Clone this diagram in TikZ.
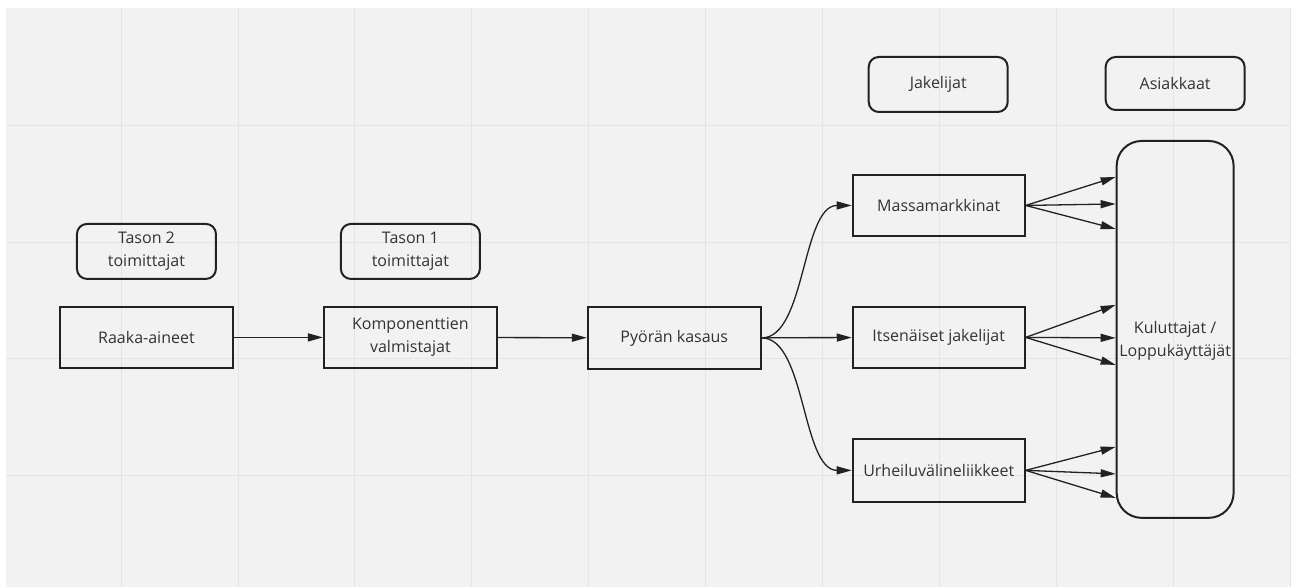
\documentclass[tikz,border=0pt]{standalone}
\usepackage{fontspec}
\setmainfont{Open Sans}
\usetikzlibrary{arrows.meta}
\definecolor{bggrey}{HTML}{F2F2F2}
\definecolor{gridgrey}{HTML}{E4E4E4}
\definecolor{inkgrey}{HTML}{222222}
\definecolor{txtgrey}{HTML}{333333}
\tikzset{
  box/.style={draw=inkgrey, line width=2pt, text=txtgrey, align=center,
    inner sep=0pt, minimum width=173pt, minimum height=61pt,
    font=\fontsize{16}{23}\selectfont},
  tag/.style={box, rounded corners=10pt, minimum width=139pt, minimum height=55pt},
  arr/.style={draw=inkgrey, line width=1.3pt, -{Triangle[length=15pt,width=8pt]}},
  gridline/.style={draw=gridgrey, line width=0.8pt}
}
\begin{document}
\begin{tikzpicture}[x=1pt, y=-1pt]

\fill[white] (0,0) rectangle (1291,587);
\fill[bggrey] (6,8) rectangle (1291,587);
\foreach \x in {121,238,...,1291} \draw[gridline] (\x,8) -- (\x,587);
\foreach \y in {125,242,359,476} \draw[gridline] (6,\y) -- (1291,\y);
\useasboundingbox (0,0) rectangle (1291,587);

\node[tag] (taso2) at (146.5,251.5) {Tason 2\\toimittajat};
\node[tag] (taso1) at (410.5,251.5) {Tason 1\\toimittajat};
\node[tag] (jakelijat) at (938.5,84.5) {Jakelijat};
\node[tag, minimum height=53pt] (asiakkaat) at (1175.5,83.5) {Asiakkaat};

\node[box] (raaka) at (146.5,337.5) {Raaka-aineet};
\node[box] (komp) at (410.5,337.5) {Komponenttien\\valmistajat};
\node[box, minimum height=62pt] (kasaus) at (674.5,338) {Pyörän kasaus};
\node[box, minimum width=172pt] (massa) at (939,205.5) {Massamarkkinat};
\node[box, minimum width=172pt] (itsen) at (939,337.5) {Itsenäiset jakelijat};
\node[box, minimum width=172pt, minimum height=63pt] (urheilu) at (939,470.5) {Urheiluvälineliikkeet};
\node[box, rounded corners=25pt, minimum width=117pt, minimum height=377pt,
  label={[text=txtgrey, align=center, font=\fontsize{16}{23}\selectfont, yshift=-11pt]center:Kuluttajat /\\Loppukäyttäjät}]
  (kuluttajat) at (1175.5,329.5) {};

\draw[arr] (raaka) -- (komp);
\draw[arr] (komp) -- (kasaus);
\draw[arr] (kasaus) -- (itsen);
\draw[arr] (kasaus.east) .. controls (806,338) and (802,205.5) .. (massa.west);
\draw[arr] (kasaus.east) .. controls (806,338) and (802,470.5) .. (urheilu.west);

\foreach \src/\ya/\yb/\yc in {massa/177/204/229, itsen/305/338/365, urheilu/447/474/498}
  \foreach \y in {\ya,\yb,\yc}
    \draw[arr] (\src.east) -- (kuluttajat.west |- 0,\y);

\end{tikzpicture}
\end{document}
